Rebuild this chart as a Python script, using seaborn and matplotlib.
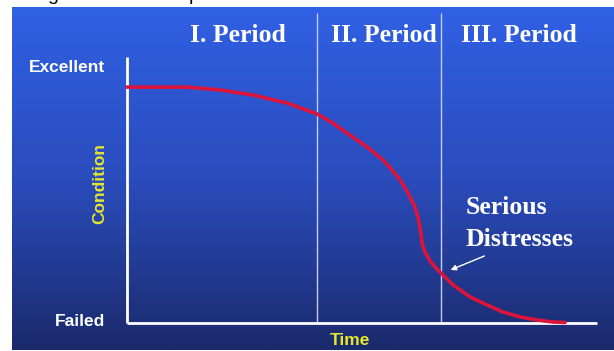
import numpy as np
import pandas as pd
import matplotlib
matplotlib.use("Agg")
import matplotlib.pyplot as plt
from matplotlib.colors import LinearSegmentedColormap
import seaborn as sns

# ---- data ----
time = [0, 12.8, 19.8, 26.8, 34.0, 40.4, 43.8, 47.4, 51.1, 54.5, 56.4, 58.1, 59.2,
        60.2, 61.1, 61.9, 62.3, 62.6, 62.8, 63.4, 64.5, 65.7, 67.0, 69.4, 73.0,
        76.6, 80.0, 83.6, 87.2, 90.6, 93.2]
condition = [92.5, 92.5, 91.4, 89.4, 86.3, 82.0, 78.4, 73.7, 69.0, 63.9, 60.0, 56.1, 52.9,
             49.4, 46.3, 41.6, 38.0, 34.5, 31.0, 27.8, 24.3, 21.6, 19.2, 14.9, 10.2,
             7.1, 4.3, 2.4, 1.2, 0.4, 0.2]
period_labels = ["I. Period", "II. Period", "III. Period"]
period_label_x = [23.7, 54.6, 83.4]
period_bounds = [40.4, 66.9]
y_labels = ["Excellent", "Failed"]
y_label_vals = [100, 0.4]
annotation_text = "Serious\nDistresses"
x_title = "Time"
y_title = "Condition"

df = pd.DataFrame({"Time": time, "Condition": condition})

sns.set_theme(style="white")
plt.rcParams["font.family"] = ["Liberation Sans", "DejaVu Sans"]

fig = plt.figure(figsize=(6.14, 3.51), dpi=100)
fig.patch.set_facecolor("white")
ax = fig.add_axes([12 / 614, 1 / 351, 602 / 614, 343 / 351])
xlim = (-24.47, 103.62)
ylim = (-10.59, 123.92)

grad = np.linspace(0, 1, 256).reshape(-1, 1)
cmap = LinearSegmentedColormap.from_list("bg", ["#1b2a6c", "#2a4cbc", "#3060e4"])
ax.imshow(grad, extent=[xlim[0], xlim[1], ylim[0], ylim[1]], origin="lower",
          aspect="auto", cmap=cmap, zorder=0)

# period separators
ax.vlines(period_bounds, 0, 121.6, color="#c8ccf0", lw=1.0, zorder=1)
# axes lines
ax.plot([0, 0], [0, 104.3], color="white", lw=2.0, zorder=2, solid_capstyle="butt")
ax.plot([0, 100], [0, 0], color="white", lw=2.0, zorder=2, solid_capstyle="butt")

sns.lineplot(data=df, x="Time", y="Condition", color="#dc143c", lw=2.6, ax=ax,
             zorder=3, solid_joinstyle="round")

ax.set_xlim(*xlim)
ax.set_ylim(*ylim)
ax.axis("off")

serif = ["Liberation Serif", "DejaVu Serif"]
for lbl, xv in zip(period_labels, period_label_x):
    ax.text(xv, 112.9, lbl, color="white", fontsize=18.5, fontweight="bold",
            family=serif, ha="center", va="center", zorder=4)

for lbl, yv in zip(y_labels, y_label_vals):
    ax.text(-4.7, yv, lbl, color="white", fontsize=12.5, fontweight="bold",
            ha="right", va="center", zorder=4)

ax.text(-5.8, 54.9, y_title, color="#e6e62e", fontsize=12.5, fontweight="bold",
        rotation=90, ha="center", va="center", zorder=4)
ax.text(47.4, -6.7, x_title, color="#e6e62e", fontsize=12.5, fontweight="bold",
        ha="center", va="center", zorder=4)

ax.text(72.1, 39.0, annotation_text, color="white", fontsize=18.5, fontweight="bold",
        family=serif, ha="left", va="center", linespacing=1.45, zorder=4)
ax.annotate("", xy=(68.3, 20.4), xytext=(76.6, 26.7),
            arrowprops=dict(arrowstyle="-|>", color="white", lw=1.0, mutation_scale=8),
            zorder=4)

# cut-off caption fragments at the very top (as in the reference)
fig.text(47 / 614, 1.0, "g", color="black", fontsize=14, ha="left", va="baseline")
fig.text(189 / 614, 1.0, "p", color="black", fontsize=14, ha="left", va="baseline")

fig.savefig("out.png", dpi=100)
